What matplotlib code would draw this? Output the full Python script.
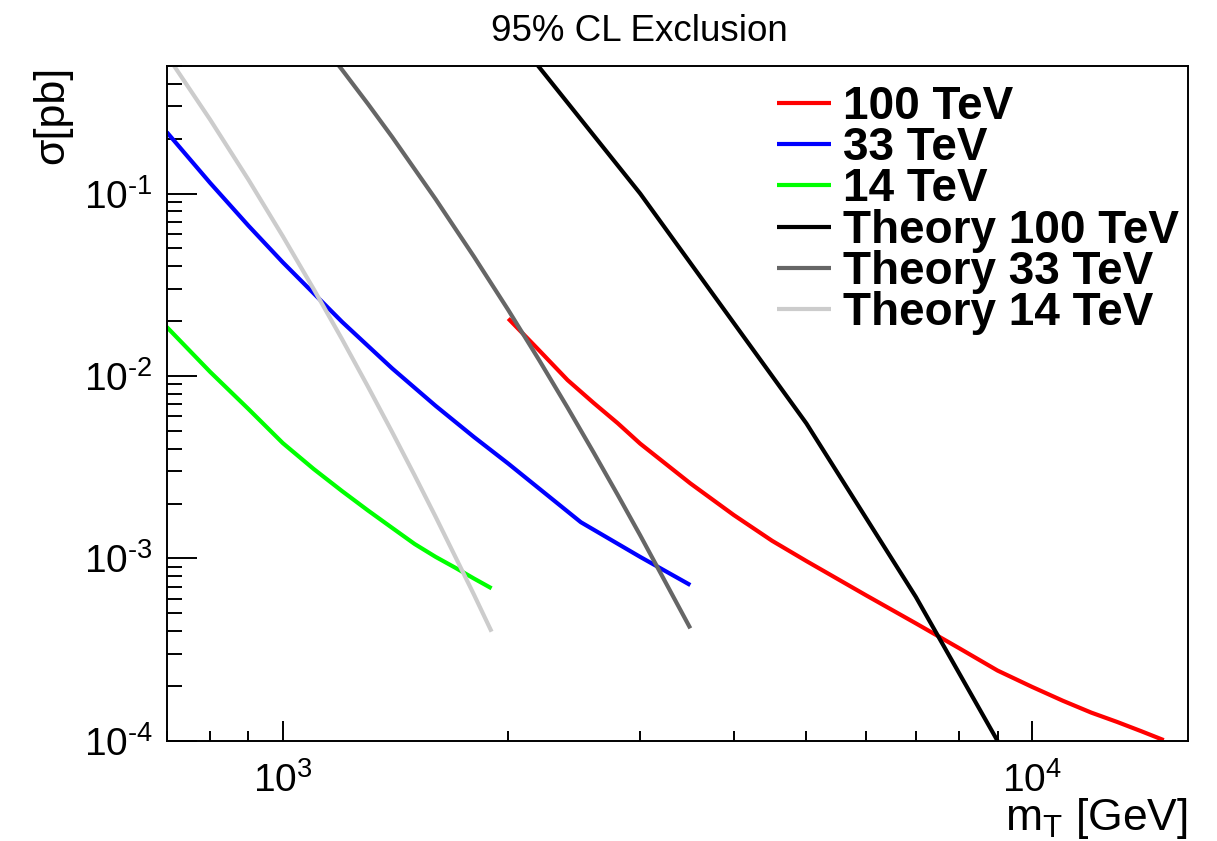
import matplotlib
matplotlib.use("Agg")
import matplotlib.pyplot as plt
import numpy as np
from matplotlib.ticker import LogLocator, NullFormatter, FuncFormatter

plt.rcParams["font.family"] = ["Liberation Sans", "DejaVu Sans"]
plt.rcParams["mathtext.fontset"] = "custom"
plt.rcParams["mathtext.rm"] = "Liberation Sans"
plt.rcParams["mathtext.it"] = "Liberation Sans"
plt.rcParams["mathtext.default"] = "regular"

# Expected 95% CL limits, sigma [pb] vs m_T [GeV]
mt_100 = [2000, 2200, 2400, 2600, 2800, 3000, 3500, 4000, 4500, 5000, 6000,
          7000, 8000, 9000, 10000, 11000, 12000, 13000, 14000, 15000]
xs_100 = [0.02065, 0.01380, 0.00950, 0.00712, 0.00551, 0.00426, 0.00258,
          0.00173, 0.00125, 0.000968, 0.000630, 0.000441, 0.000322, 0.000243,
          0.000198, 0.000166, 0.000143, 0.000127, 0.000113, 0.000101]

mt_33 = [700, 800, 900, 1000, 1200, 1400, 1600, 1800, 2000, 2500, 3000, 3500]
xs_33 = [0.2172, 0.1143, 0.0666, 0.0420, 0.0198, 0.0110, 0.00686, 0.00463,
         0.00331, 0.00158, 0.00102, 0.000715]

mt_14 = [700, 800, 900, 1000, 1100, 1200, 1300, 1400, 1500, 1600, 1700, 1800,
         1900]
xs_14 = [0.01857, 0.01053, 0.00659, 0.00429, 0.00309, 0.00234, 0.00183,
         0.00147, 0.00120, 0.00102, 0.000889, 0.000776, 0.000686]

# Theory cross sections
mt_th100 = [2000, 2193, 3000, 5000, 7000, 9000]
xs_th100 = [0.80, 0.50, 0.100, 0.0055, 0.000616, 0.000100]

mt_th33 = [1100, 1200, 1300, 1400, 1600, 1800, 2000, 2200, 2400, 2600, 2800,
           3000, 3200, 3500]
xs_th33 = [0.752, 0.477, 0.309, 0.204, 0.0931, 0.0451, 0.0230, 0.01219,
           0.00671, 0.00381, 0.00223, 0.00134, 0.000820, 0.000414]

mt_th14 = [700, 800, 900, 1000, 1100, 1200, 1300, 1400, 1500, 1600, 1700, 1800,
           1900]
xs_th14 = [0.575, 0.254, 0.119, 0.0584, 0.0299, 0.0159, 0.00871, 0.00492,
           0.00285, 0.00169, 0.00102, 0.000633, 0.000397]

series = [
    (mt_100, xs_100, "#ff0000", "100 TeV"),
    (mt_33, xs_33, "#0000ff", "33 TeV"),
    (mt_14, xs_14, "#00ff00", "14 TeV"),
    (mt_th100, xs_th100, "#000000", "Theory 100 TeV"),
    (mt_th33, xs_th33, "#666666", "Theory 33 TeV"),
    (mt_th14, xs_th14, "#cccccc", "Theory 14 TeV"),
]


def pow10_label(val, pos):
    # ROOT-like exponent labels with a short hyphen
    e = int(round(np.log10(val)))
    if e < 0:
        return r"$10^{\text{-%d}}$" % (-e)
    return r"$10^{%d}$" % e


fig = plt.figure(figsize=(12.17, 8.41), dpi=100)
ax = fig.add_axes([0.137, 0.119, 0.839, 0.8025])

for mt, xs, col, lab in series:
    ax.plot(mt, xs, color=col, lw=3.0, label=lab, solid_capstyle="butt")

ax.set_xscale("log")
ax.set_yscale("log")
ax.set_xlim(700, 16150)
ax.set_ylim(1e-4, 0.5)

for s in ax.spines.values():
    s.set_linewidth(1.4)

ax.xaxis.set_minor_locator(LogLocator(base=10, subs=np.arange(2, 10), numticks=20))
ax.yaxis.set_minor_locator(LogLocator(base=10, subs=np.arange(2, 10), numticks=20))
ax.xaxis.set_minor_formatter(NullFormatter())
ax.yaxis.set_minor_formatter(NullFormatter())
ax.xaxis.set_major_formatter(FuncFormatter(pow10_label))
ax.yaxis.set_major_formatter(FuncFormatter(pow10_label))

ax.tick_params(axis="both", which="both", direction="in", top=False, right=False,
               width=1.4, labelsize=28)
ax.tick_params(axis="x", which="major", length=14.4, pad=15)
ax.tick_params(axis="x", which="minor", length=7.2)
ax.tick_params(axis="y", which="major", length=21.6, pad=10)
ax.tick_params(axis="y", which="minor", length=10.8)

ax.set_xlabel("m$_{T}$ [GeV]", fontsize=32, loc="right")
ax.xaxis.set_label_coords(1.0, -0.082)
ax.set_ylabel("σ[pb]", fontsize=31, loc="top")
ax.yaxis.set_label_coords(-0.0927, 1.0)

fig.text(0.5255, 1 - 41 / 841, "95% CL Exclusion", fontsize=26.5,
         ha="center", va="baseline")

leg = ax.legend(loc="upper left", bbox_to_anchor=(0.5976, 0.972),
                frameon=False, borderpad=0, borderaxespad=0,
                handlelength=1.17, handletextpad=0.28, labelspacing=-0.06,
                prop={"size": 33, "weight": "bold"})

fig.savefig("out.png", dpi=100)
